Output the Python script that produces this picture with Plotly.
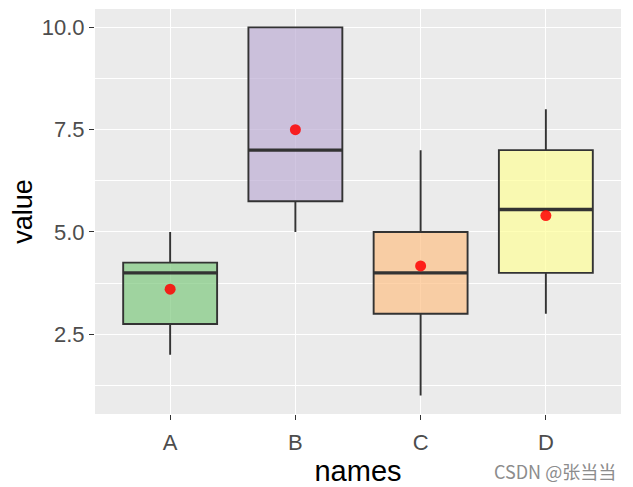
import plotly.graph_objects as go

# values
names = ["A", "B", "C", "D"]
lower = [2.0, 5.0, 1.0, 3.0]
q1 = [2.75, 5.75, 3.0, 4.0]
median = [4.0, 7.0, 4.0, 5.55]
q3 = [4.25, 10.0, 5.0, 7.0]
upper = [5.0, 10.0, 7.0, 8.0]
means = [3.6, 7.5, 4.17, 5.4]
fills = ["#7FC97F", "#BEAED4", "#FDC086", "#FFFF99"]

y_ticks = [2.5, 5.0, 7.5, 10.0]
box_width = 0.75


def rgba(hex_color, alpha):
    h = hex_color.lstrip("#")
    r, g, b = int(h[0:2], 16), int(h[2:4], 16), int(h[4:6], 16)
    return f"rgba({r},{g},{b},{alpha})"


fig = go.Figure()

for i, name in enumerate(names):
    fig.add_trace(
        go.Box(
            x=[i],
            q1=[q1[i]],
            median=[median[i]],
            q3=[q3[i]],
            lowerfence=[lower[i]],
            upperfence=[upper[i]],
            width=box_width,
            whiskerwidth=0,
            fillcolor=rgba(fills[i], 0.7),
            line=dict(color="#333333", width=1.9),
            showlegend=False,
            hoverinfo="skip",
        )
    )
    # thicker median line, as ggplot draws it
    fig.add_trace(
        go.Scatter(
            x=[i - box_width / 2, i + box_width / 2],
            y=[median[i], median[i]],
            mode="lines",
            line=dict(color="#333333", width=3.4),
            showlegend=False,
            hoverinfo="skip",
        )
    )

fig.add_trace(
    go.Scatter(
        x=list(range(len(names))),
        y=means,
        mode="markers",
        marker=dict(color="rgba(255,0,0,0.85)", size=11),
        showlegend=False,
        hoverinfo="skip",
    )
)

font = "Liberation Sans, Arial, sans-serif"

# page body has an 8px margin, so the figure is a little smaller than the window
fig.update_layout(
    width=625,
    height=479,
    margin=dict(l=87, r=12, t=1, b=73),
    paper_bgcolor="white",
    plot_bgcolor="#EBEBEB",
    font=dict(family=font, color="#4D4D4D", size=22),
)

fig.update_xaxes(
    range=[-0.6, 3.6],
    tickvals=list(range(len(names))),
    ticktext=names,
    showgrid=True,
    gridcolor="white",
    gridwidth=1.4,
    zeroline=False,
    ticks="outside",
    ticklen=5,
    tickwidth=1.4,
    tickcolor="#333333",
    ticklabelstandoff=4,
    tickfont=dict(size=22, color="#4D4D4D"),
    title=dict(text="names", font=dict(size=29, color="black"), standoff=10),
)

fig.update_yaxes(
    range=[0.55, 10.45],
    tickvals=y_ticks,
    ticktext=[f"{v:.1f}" for v in y_ticks],
    showgrid=True,
    gridcolor="white",
    gridwidth=1.4,
    zeroline=False,
    ticks="outside",
    ticklen=5,
    tickwidth=1.4,
    tickcolor="#333333",
    tickfont=dict(size=22, color="#4D4D4D"),
    minor=dict(
        tickvals=[1.25, 3.75, 6.25, 8.75],
        showgrid=True,
        gridcolor="white",
        gridwidth=0.7,
        ticks="",
    ),
    title=dict(text="value", font=dict(size=27, color="black"), standoff=9),
)

fig.add_annotation(
    text="CSDN @张当当",
    xref="paper",
    yref="paper",
    x=1.0,
    y=0,
    xshift=-3,
    yshift=-57,
    xanchor="right",
    yanchor="middle",
    showarrow=False,
    font=dict(family="Noto Sans CJK SC, sans-serif", size=18, color="#8C8C8C"),
)

fig.write_html("out.html")
